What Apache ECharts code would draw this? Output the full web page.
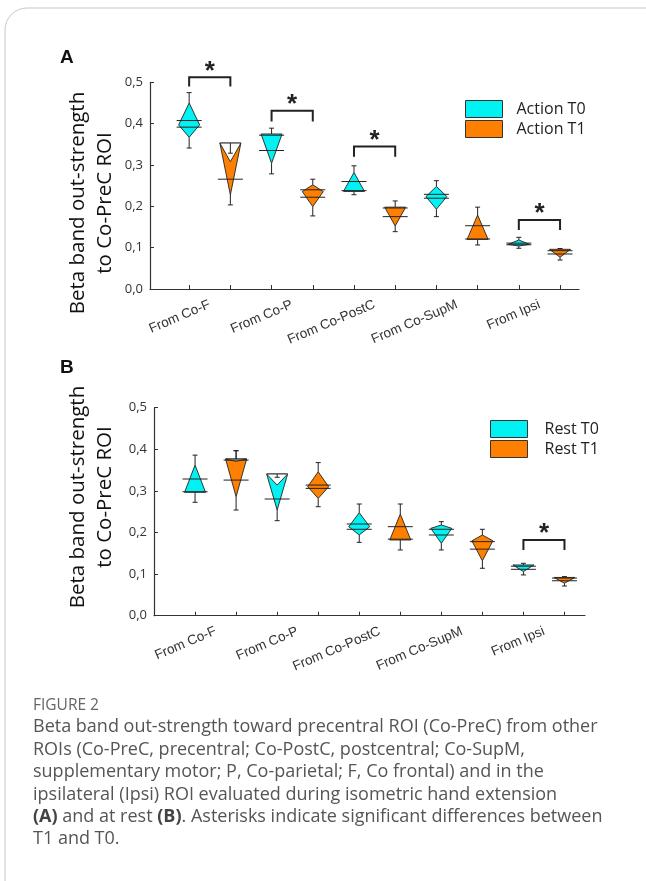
<!DOCTYPE html>
<html>
<head>
<meta charset="utf-8">
<script src="https://cdn.jsdelivr.net/npm/echarts@6.0.0/dist/echarts.min.js"></script>
<style>
  html, body { margin: 0; padding: 0; background: #fff; }
  #chart { width: 646px; height: 881px; }
</style>
</head>
<body>
<div id="chart"></div>
<script>
// categories of the x axis
const categories = ["From Co-F", "From Co-P", "From Co-PostC", "From Co-SupM", "From Ipsi"];
const yTicks = [0, 0.1, 0.2, 0.3, 0.4, 0.5];

// each row: [whiskerMax, shapeTop, shapeWaist, shapeBottom, whiskerMin, line1, line2, notch]
const actionT0 = [
    [0.475, 0.450, 0.397, 0.367, 0.341, 0.4075, 0.3915, null],
    [0.389, 0.375, 0.375, 0.304, 0.2785, 0.372, 0.335, null],
    [0.298, 0.282, 0.236, 0.236, 0.228, 0.260, 0.238, null],
    [0.262, 0.248, 0.2235, 0.193, 0.175, 0.229, 0.2196, null],
    [0.125, 0.1186, 0.108, 0.104, 0.0985, 0.111, 0.107, null],
];
const actionT1 = [
    [0.3285, 0.353, 0.353, 0.2276, 0.2034, 0.2656, null, 0.308],
    [0.2656, 0.252, 0.2357, 0.1993, 0.1768, 0.240, 0.222, null],
    [0.213, 0.198, 0.198, 0.1525, 0.1387, 0.196, 0.175, null],
    [0.198, 0.179, 0.120, 0.120, 0.1065, 0.153, 0.121, null],
    [0.098, 0.096, 0.096, 0.0767, 0.070, 0.0927, 0.0847, null],
];
const restT0 = [
    [0.386, 0.362, 0.2966, 0.2966, 0.2726, 0.3286, 0.298, null],
    [0.3327, 0.3406, 0.3406, 0.254, 0.2284, 0.2805, null, 0.314],
    [0.2685, 0.2476, 0.214, 0.194, 0.1764, 0.2204, 0.2077, null],
    [0.226, 0.218, 0.210, 0.174, 0.158, 0.2077, 0.194, null],
    [0.126, 0.122, 0.122, 0.106, 0.098, 0.119, 0.1115, null],
];
const restT1 = [
    [0.3966, 0.3767, 0.3767, 0.286, 0.254, 0.374, 0.326, 0.371],
    [0.368, 0.346, 0.310, 0.282, 0.262, 0.314, 0.306, null],
    [0.2685, 0.2445, 0.182, 0.182, 0.158, 0.214, 0.184, null],
    [0.2077, 0.194, 0.180, 0.132, 0.114, 0.178, 0.160, null],
    [0.094, 0.092, 0.092, 0.078, 0.0714, 0.0905, 0.084, null],
];

// significance brackets: [category index, bracket top, leg bottom]
const sigAction = [[0, 0.512, 0.490], [1, 0.431, 0.405], [2, 0.345, 0.320], [4, 0.167, 0.143]];
const sigRest = [[4, 0.182, 0.158]];

const CYAN = "#00f2f2";
const ORANGE = "#ff8000";
const INK = "#222";

const tickPos = categories.flatMap((c, i) => [2 * i + 1, 2 * i + 2]);
const labelPos = categories.map((c, i) => 2 * i + 1.5);

function makeBoxRender(rows) {
    return function (params, api) {
        const r = rows[params.dataIndex];
        const xv = api.value(0);
        const c = api.coord([xv, 0])[0];
        const Y = (v) => api.coord([xv, v])[1];
        const hw = 10.5, lw = 12.5, cap = 2.5;
        const ls = { stroke: INK, lineWidth: 1 };
        const kids = [];
        // whiskers
        kids.push({ type: "line", shape: { x1: c, y1: Y(r[0]), x2: c, y2: Y(r[1]) }, style: ls });
        kids.push({ type: "line", shape: { x1: c - cap, y1: Y(r[0]), x2: c + cap, y2: Y(r[0]) }, style: ls });
        kids.push({ type: "line", shape: { x1: c, y1: Y(r[3]), x2: c, y2: Y(r[4]) }, style: ls });
        kids.push({ type: "line", shape: { x1: c - cap, y1: Y(r[4]), x2: c + cap, y2: Y(r[4]) }, style: ls });
        // body
        kids.push({
            type: "polygon",
            shape: { points: [[c, Y(r[1])], [c + hw, Y(r[2])], [c, Y(r[3])], [c - hw, Y(r[2])]] },
            style: { fill: api.visual("color"), stroke: INK, lineWidth: 0.9 },
        });
        if (r[7] != null) {
            kids.push({
                type: "polygon",
                shape: { points: [[c - hw, Y(r[1])], [c + hw, Y(r[1])], [c, Y(r[7])]] },
                style: { fill: "#fff", stroke: INK, lineWidth: 0.9 },
            });
            kids.push({ type: "line", shape: { x1: c, y1: Y(r[0]), x2: c, y2: Y(r[1]) }, style: ls });
            kids.push({ type: "line", shape: { x1: c - cap, y1: Y(r[0]), x2: c + cap, y2: Y(r[0]) }, style: ls });
        }
        [r[5], r[6]].forEach((v) => {
            if (v != null) {
                kids.push({ type: "line", shape: { x1: c - lw, y1: Y(v), x2: c + lw, y2: Y(v) }, style: ls });
            }
        });
        return { type: "group", children: kids };
    };
}

function makeSigRender(rows) {
    return function (params, api) {
        const r = rows[params.dataIndex];
        const x1 = api.coord([2 * r[0] + 1, 0])[0];
        const x2 = api.coord([2 * r[0] + 2, 0])[0];
        const yt = api.coord([0, r[1]])[1];
        const yb = api.coord([0, r[2]])[1];
        return {
            type: "group",
            children: [
                {
                    type: "polyline",
                    shape: { points: [[x1, yb], [x1, yt], [x2, yt], [x2, yb]] },
                    style: { stroke: INK, lineWidth: 2, fill: null },
                },
                {
                    type: "text",
                    style: {
                        text: "*", x: (x1 + x2) / 2, y: yt + 7,
                        fontSize: 26, fontFamily: "Liberation Sans", fontWeight: "bold",
                        fill: INK, align: "center", verticalAlign: "bottom",
                    },
                },
            ],
        };
    };
}

function boxSeries(name, rows, offset, idx, color) {
    return {
        name: name,
        type: "custom",
        xAxisIndex: idx,
        yAxisIndex: idx,
        itemStyle: { color: color },
        renderItem: makeBoxRender(rows),
        data: rows.map((r, i) => [2 * i + offset, r[0], r[4]]),
        clip: false,
    };
}

function sigSeries(rows, idx) {
    return {
        type: "custom",
        xAxisIndex: idx,
        yAxisIndex: idx,
        renderItem: makeSigRender(rows),
        data: rows.map((r) => [2 * r[0] + 1.5, r[1]]),
        clip: false,
        silent: true,
    };
}

function xAxisFor(idx, min, max) {
    return {
        type: "value",
        gridIndex: idx,
        min: min,
        max: max,
        splitLine: { show: false },
        axisLine: { lineStyle: { color: "#333", width: 1.2 } },
        axisTick: { inside: true, length: 4, customValues: tickPos, lineStyle: { color: "#333" } },
        axisLabel: {
            customValues: labelPos,
            rotate: 23,
            margin: 15,
            fontFamily: "Liberation Sans",
            fontSize: 13.5,
            color: "#333",
            formatter: (v) => categories[Math.round((v - 1.5) / 2)],
        },
    };
}

function yAxisFor(idx) {
    return {
        type: "value",
        gridIndex: idx,
        min: 0,
        max: 0.5,
        interval: 0.1,
        splitLine: { show: false },
        axisLine: { show: true, lineStyle: { color: "#333", width: 1.2 } },
        axisTick: { show: true, inside: true, length: 4, lineStyle: { color: "#333" } },
        axisLabel: {
            margin: 7,
            fontFamily: "Open Sans",
            fontSize: 13,
            color: "#333",
            formatter: (v) => v.toFixed(1).replace(".", ","),
        },
    };
}

const chart = echarts.init(document.getElementById("chart"));

const yName = "Beta band out-strength\nto Co-PreC ROI";
const caption = [
    "Beta band out-strength toward precentral ROI (Co-PreC) from other",
    "ROIs (Co-PreC, precentral; Co-PostC, postcentral; Co-SupM,",
    "supplementary motor; P, Co-parietal; F, Co frontal) and in the",
    "ipsilateral (Ipsi) ROI evaluated during isometric hand extension",
    "{b|(A)} and at rest {b|(B)}. Asterisks indicate significant differences between",
    "T1 and T0.",
].join("\n");

chart.setOption({
    backgroundColor: "#fff",
    animation: false,
    grid: [
        { left: 150, top: 82.3, width: 429, height: 206.7 },
        { left: 154, top: 407.7, width: 431, height: 208 },
    ],
    xAxis: [xAxisFor(0, 0.05, 10.46), xAxisFor(1, 0, 10.5)],
    yAxis: [yAxisFor(0), yAxisFor(1)],
    legend: [
        {
            data: ["Action T0", "Action T1"],
            orient: "vertical",
            left: 460,
            top: 95,
            itemWidth: 37,
            itemHeight: 17,
            itemGap: 2,
            icon: "rect",
            itemStyle: { borderColor: "#333", borderWidth: 1 },
            textStyle: { fontFamily: "Open Sans", fontSize: 16, color: "#222", padding: [0, 0, 0, 9] },
            selectedMode: false,
        },
        {
            data: ["Rest T0", "Rest T1"],
            orient: "vertical",
            left: 485,
            top: 415,
            itemWidth: 37,
            itemHeight: 17,
            itemGap: 2,
            icon: "rect",
            itemStyle: { borderColor: "#333", borderWidth: 1 },
            textStyle: { fontFamily: "Open Sans", fontSize: 16, color: "#222", padding: [0, 0, 0, 12] },
            selectedMode: false,
        },
    ],
    graphic: [
        {
            type: "rect",
            shape: { x: 5, y: 8, width: 700, height: 950, r: 22 },
            style: { fill: null, stroke: "#c8c8c8", lineWidth: 1 },
            silent: true,
        },
        { type: "text", left: 60, top: 48, style: { text: "A", fontFamily: "Liberation Sans", fontWeight: "bold", fontSize: 19, fill: "#111" } },
        { type: "text", left: 60, top: 358, style: { text: "B", fontFamily: "Liberation Sans", fontWeight: "bold", fontSize: 19, fill: "#111" } },
        {
            type: "text", x: 92, y: 203, rotation: Math.PI / 2,
            style: { text: yName, fontFamily: "Open Sans", fontSize: 20.5, lineHeight: 27, fill: "#111", align: "center", verticalAlign: "middle" },
        },
        {
            type: "text", x: 92, y: 497, rotation: Math.PI / 2,
            style: { text: yName, fontFamily: "Open Sans", fontSize: 20.5, lineHeight: 27, fill: "#111", align: "center", verticalAlign: "middle" },
        },
        { type: "text", left: 33, top: 698, style: { text: "FIGURE 2", fontFamily: "Open Sans", fontSize: 15.5, fill: "#666" } },
        {
            type: "text", left: 33, top: 716,
            style: {
                text: caption, fontFamily: "Open Sans", fontSize: 18, lineHeight: 22.4, fill: "#555",
                rich: { b: { fontFamily: "Open Sans", fontSize: 18, fontWeight: "bold", fill: "#444" } },
            },
        },
    ],
    series: [
        boxSeries("Action T0", actionT0, 1, 0, CYAN),
        boxSeries("Action T1", actionT1, 2, 0, ORANGE),
        sigSeries(sigAction, 0),
        boxSeries("Rest T0", restT0, 1, 1, CYAN),
        boxSeries("Rest T1", restT1, 2, 1, ORANGE),
        sigSeries(sigRest, 1),
    ],
});
</script>
</body>
</html>
